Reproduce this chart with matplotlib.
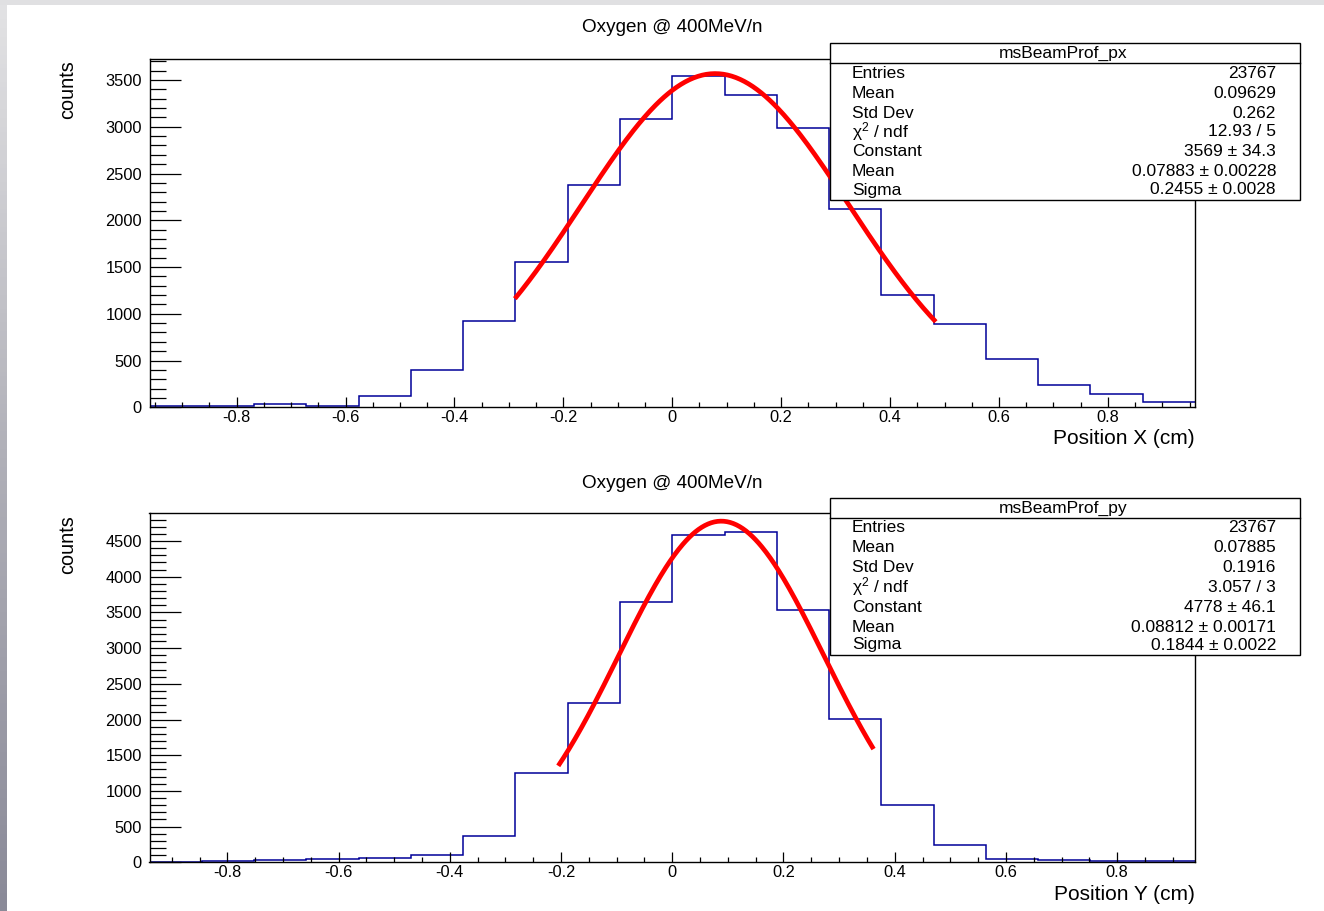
import numpy as np
import matplotlib
matplotlib.use("Agg")
import matplotlib.pyplot as plt
from matplotlib.patches import Rectangle
from matplotlib.lines import Line2D
from matplotlib.ticker import MultipleLocator, FuncFormatter
from matplotlib.colors import LinearSegmentedColormap

plt.rcParams['font.family'] = ['Liberation Sans', 'DejaVu Sans']
plt.rcParams['mathtext.fontset'] = 'custom'
plt.rcParams['mathtext.rm'] = 'Liberation Sans'
plt.rcParams['mathtext.it'] = 'Liberation Sans:italic'

# ---- data ----
title = "Oxygen @ 400MeV/n"

# X profile: 20 bins from -0.96 to 0.96
px_edges = np.linspace(-0.96, 0.96, 21)
px_counts = [15, 12, 32, 15, 121, 399, 926, 1550, 2377, 3087,
             3547, 3340, 2987, 2124, 1201, 891, 517, 238, 139, 53]
px_fit = dict(const=3569, mean=0.07883, sigma=0.2455, lo=-0.289, hi=0.484)
px_stats_name = "msBeamProf_px"
px_stats_vals = ["23767", "0.09629", "0.262", "12.93 / 5",
                 "3569 ± 34.3", "0.07883 ± 0.00228", "0.2455 ± 0.0028"]

# Y profile: 20 bins from -0.94 to 0.94
py_edges = np.linspace(-0.94, 0.94, 21)
py_counts = [10, 19, 33, 42, 65, 98, 373, 1256, 2236, 3651,
             4589, 4626, 3534, 2007, 803, 243, 47, 28, 19, 14]
py_fit = dict(const=4778, mean=0.08812, sigma=0.1844, lo=-0.205, hi=0.362)
py_stats_name = "msBeamProf_py"
py_stats_vals = ["23767", "0.07885", "0.1916", "3.057 / 3",
                 "4778 ± 46.1", "0.08812 ± 0.00171", "0.1844 ± 0.0022"]

stats_labels = ["Entries", "Mean", "Std Dev", "χ$^{2}$ / ndf",
                "Constant", "Mean", "Sigma"]

W, H = 1324, 911
fig = plt.figure(figsize=(W / 100, H / 100), dpi=100)


def fx(px):
    return px / W


def fy(py):
    return 1 - py / H


# window chrome: top strip and left gradient strip
fig.add_artist(Rectangle((0, fy(5)), 1, 5 / H, transform=fig.transFigure,
                         facecolor='#e0e0e2', edgecolor='none', zorder=0))
side = fig.add_axes([0, 0, 6 / W, fy(5)])
grad_cmap = LinearSegmentedColormap.from_list('g', ['#8a8a98', '#b0b0b8', '#e2e2e4'])
side.imshow(np.linspace(0, 1, 200)[:, None], aspect='auto', cmap=grad_cmap, origin='lower')
side.axis('off')


def draw_panel(top_px, bot_px, edges, counts, fit, ymax, xlabel, name, vals, off):
    ax = fig.add_axes([fx(149.5), fy(bot_px), fx(1195) - fx(149.5), fy(top_px) - fy(bot_px)])
    ax.stairs(counts, edges, color='#000099', lw=1.1, baseline=None)
    xs = np.linspace(fit['lo'], fit['hi'], 300)
    ax.plot(xs, fit['const'] * np.exp(-0.5 * ((xs - fit['mean']) / fit['sigma']) ** 2),
            color='#ff0000', lw=3.4, solid_capstyle='butt')
    ax.set_xlim(edges[0], edges[-1])
    ax.set_ylim(0, ymax)
    for s in ax.spines.values():
        s.set_linewidth(1.0)
    ax.xaxis.set_major_locator(MultipleLocator(0.2))
    ax.xaxis.set_minor_locator(MultipleLocator(0.05))
    ax.yaxis.set_major_locator(MultipleLocator(500))
    ax.yaxis.set_minor_locator(MultipleLocator(100))
    ax.xaxis.set_major_formatter(FuncFormatter(lambda v, p: "0" if abs(v) < 1e-9 else "%g" % v))
    ax.tick_params(axis='x', which='major', direction='in', length=7.5, width=0.9,
                   labelsize=11.8, pad=2)
    ax.tick_params(axis='x', which='minor', direction='in', length=3.8, width=0.9)
    ax.tick_params(axis='y', which='major', direction='in', length=22.5, width=0.9,
                   labelsize=11.8, pad=5.5)
    ax.tick_params(axis='y', which='minor', direction='in', length=11.2, width=0.9)

    fig.text(fx(672), fy(28 + off), title, ha='center', va='center', fontsize=13.6)
    fig.text(fx(67.5), fy(60 + off), "counts", rotation=90, ha='center', va='top', fontsize=14.3)
    fig.text(fx(1195), fy(439 + off), xlabel, ha='right', va='center', fontsize=15)

    # stats box
    fig.add_artist(Rectangle((fx(830), fy(200 + off)), fx(1300) - fx(830), (200 - 43) / H,
                             transform=fig.transFigure, facecolor='white',
                             edgecolor='black', lw=1.0, zorder=5))
    fig.add_artist(Line2D([fx(830), fx(1300)], [fy(63 + off), fy(63 + off)],
                          transform=fig.transFigure, color='black', lw=1.0, zorder=6))
    fig.text(fx(1063), fy(53 + off), name, ha='center', va='center', fontsize=12.5, zorder=7)
    rows = [73, 93, 113, 132, 152, 172, 190]
    for r, lab, val in zip(rows, stats_labels, vals):
        fig.text(fx(852), fy(r + off), lab, ha='left', va='center', fontsize=12.5, zorder=7)
        fig.text(fx(1276), fy(r + off), val, ha='right', va='center', fontsize=12.5, zorder=7)
    return ax


draw_panel(59, 407.3, px_edges, px_counts, px_fit, 3725, "Position X (cm)",
           px_stats_name, px_stats_vals, 0)
draw_panel(513.3, 862.3, py_edges, py_counts, py_fit, 4888, "Position Y (cm)",
           py_stats_name, py_stats_vals, 455)

fig.savefig("out.png", dpi=100)
